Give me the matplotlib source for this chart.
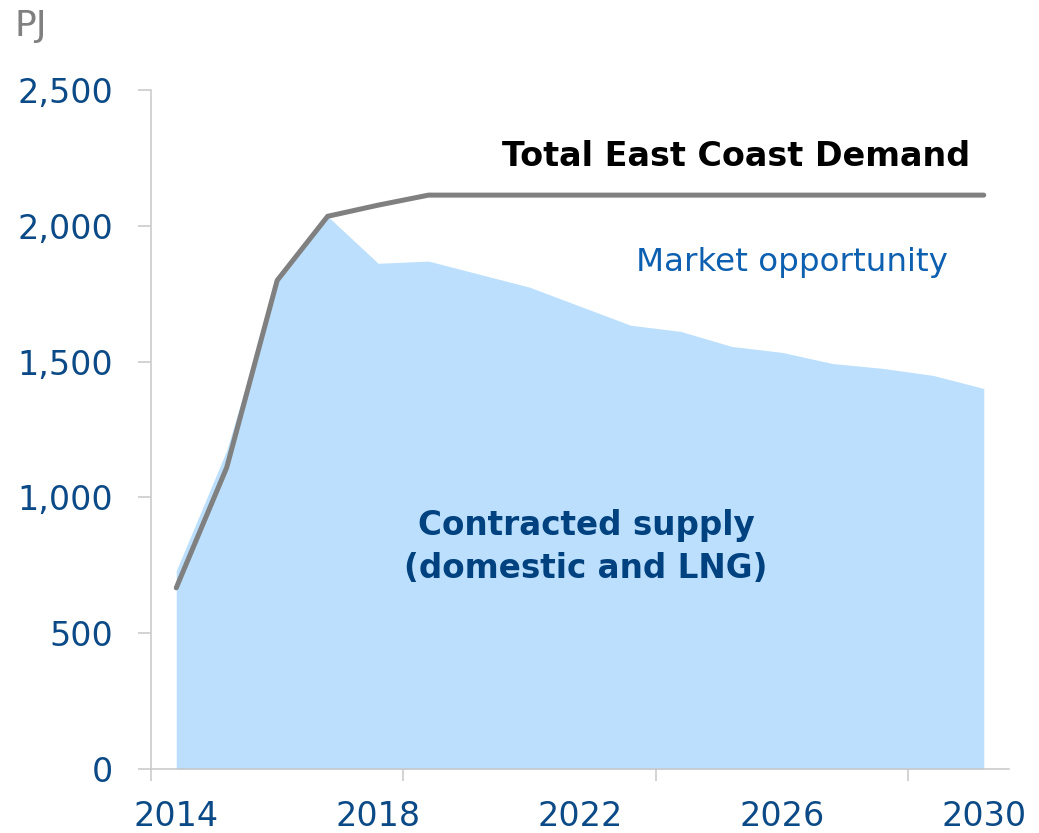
import matplotlib
matplotlib.use("Agg")
import matplotlib.pyplot as plt

years = list(range(2014, 2031))
demand = [667, 1110, 1799, 2035, 2076, 2113, 2113, 2113, 2113, 2113, 2113, 2113, 2113, 2113, 2113, 2113, 2113]
supply = [730, 1173, 1799, 2035, 1862, 1870, 1822, 1774, 1704, 1634, 1611, 1556, 1534, 1493, 1475, 1449, 1401]
year_labels = ["2014", "2018", "2022", "2026", "2030"]
y_ticks = [0, 500, 1000, 1500, 2000, 2500]

W, H = 1039, 833
fig = plt.figure(figsize=(W / 100, H / 100), dpi=100)
ax = fig.add_axes([151 / W, (H - 769) / H, (1009 - 151) / W, (769 - 90) / H])

x = list(range(len(years)))
ax.fill_between(x, 0, supply, color="#BBDFFC", linewidth=0, zorder=1)
ax.plot(x, demand, color="#808080", linewidth=3.6, solid_capstyle="round",
        solid_joinstyle="round", zorder=3)

ax.set_xlim(-0.5, len(years) - 0.5)
ax.set_ylim(0, 2500)

tick_col = "#0B4A86"
grey = "#C8C8C8"

# x axis: tick marks at category boundaries every 5, labels every 4 years
ax.set_xticks([-0.5, 4.5, 9.5, 14.5])
ax.set_xticklabels([])
ax.tick_params(axis="x", which="major", length=8.6, width=1.1, color=grey, direction="out")
lab_pos = [years.index(int(y)) for y in year_labels]
ax.set_xticks(lab_pos, minor=True)
ax.set_xticklabels(year_labels, minor=True)
ax.tick_params(axis="x", which="minor", length=0, pad=22, labelsize=24, labelcolor=tick_col)

ax.set_yticks(y_ticks)
ax.set_yticklabels([f"{v:,}" for v in y_ticks])
ax.tick_params(axis="y", length=9.4, width=1.1, color=grey, direction="out",
               pad=18, labelsize=24, labelcolor=tick_col)

for s in ["top", "right"]:
    ax.spines[s].set_visible(False)
for s in ["left", "bottom"]:
    ax.spines[s].set_color(grey)
    ax.spines[s].set_linewidth(1.1)

# annotations
fig.text(14 / W, 1 - 26 / H, "PJ", color="#808080", fontsize=26, ha="left", va="center")
fig.text(970 / W, 1 - 156 / H, "Total East Coast Demand", color="black", fontsize=24,
         fontweight="bold", ha="right", va="center")
fig.text(948 / W, 1 - 262 / H, "Market opportunity", color="#0D5FB0", fontsize=23.4,
         ha="right", va="center")
fig.text(586 / W, 1 - 547 / H, "Contracted supply\n(domestic and LNG)", color="#00427F",
         fontsize=23.5, fontweight="bold", ha="center", va="center", linespacing=1.4)

fig.savefig("out.png", dpi=100)
